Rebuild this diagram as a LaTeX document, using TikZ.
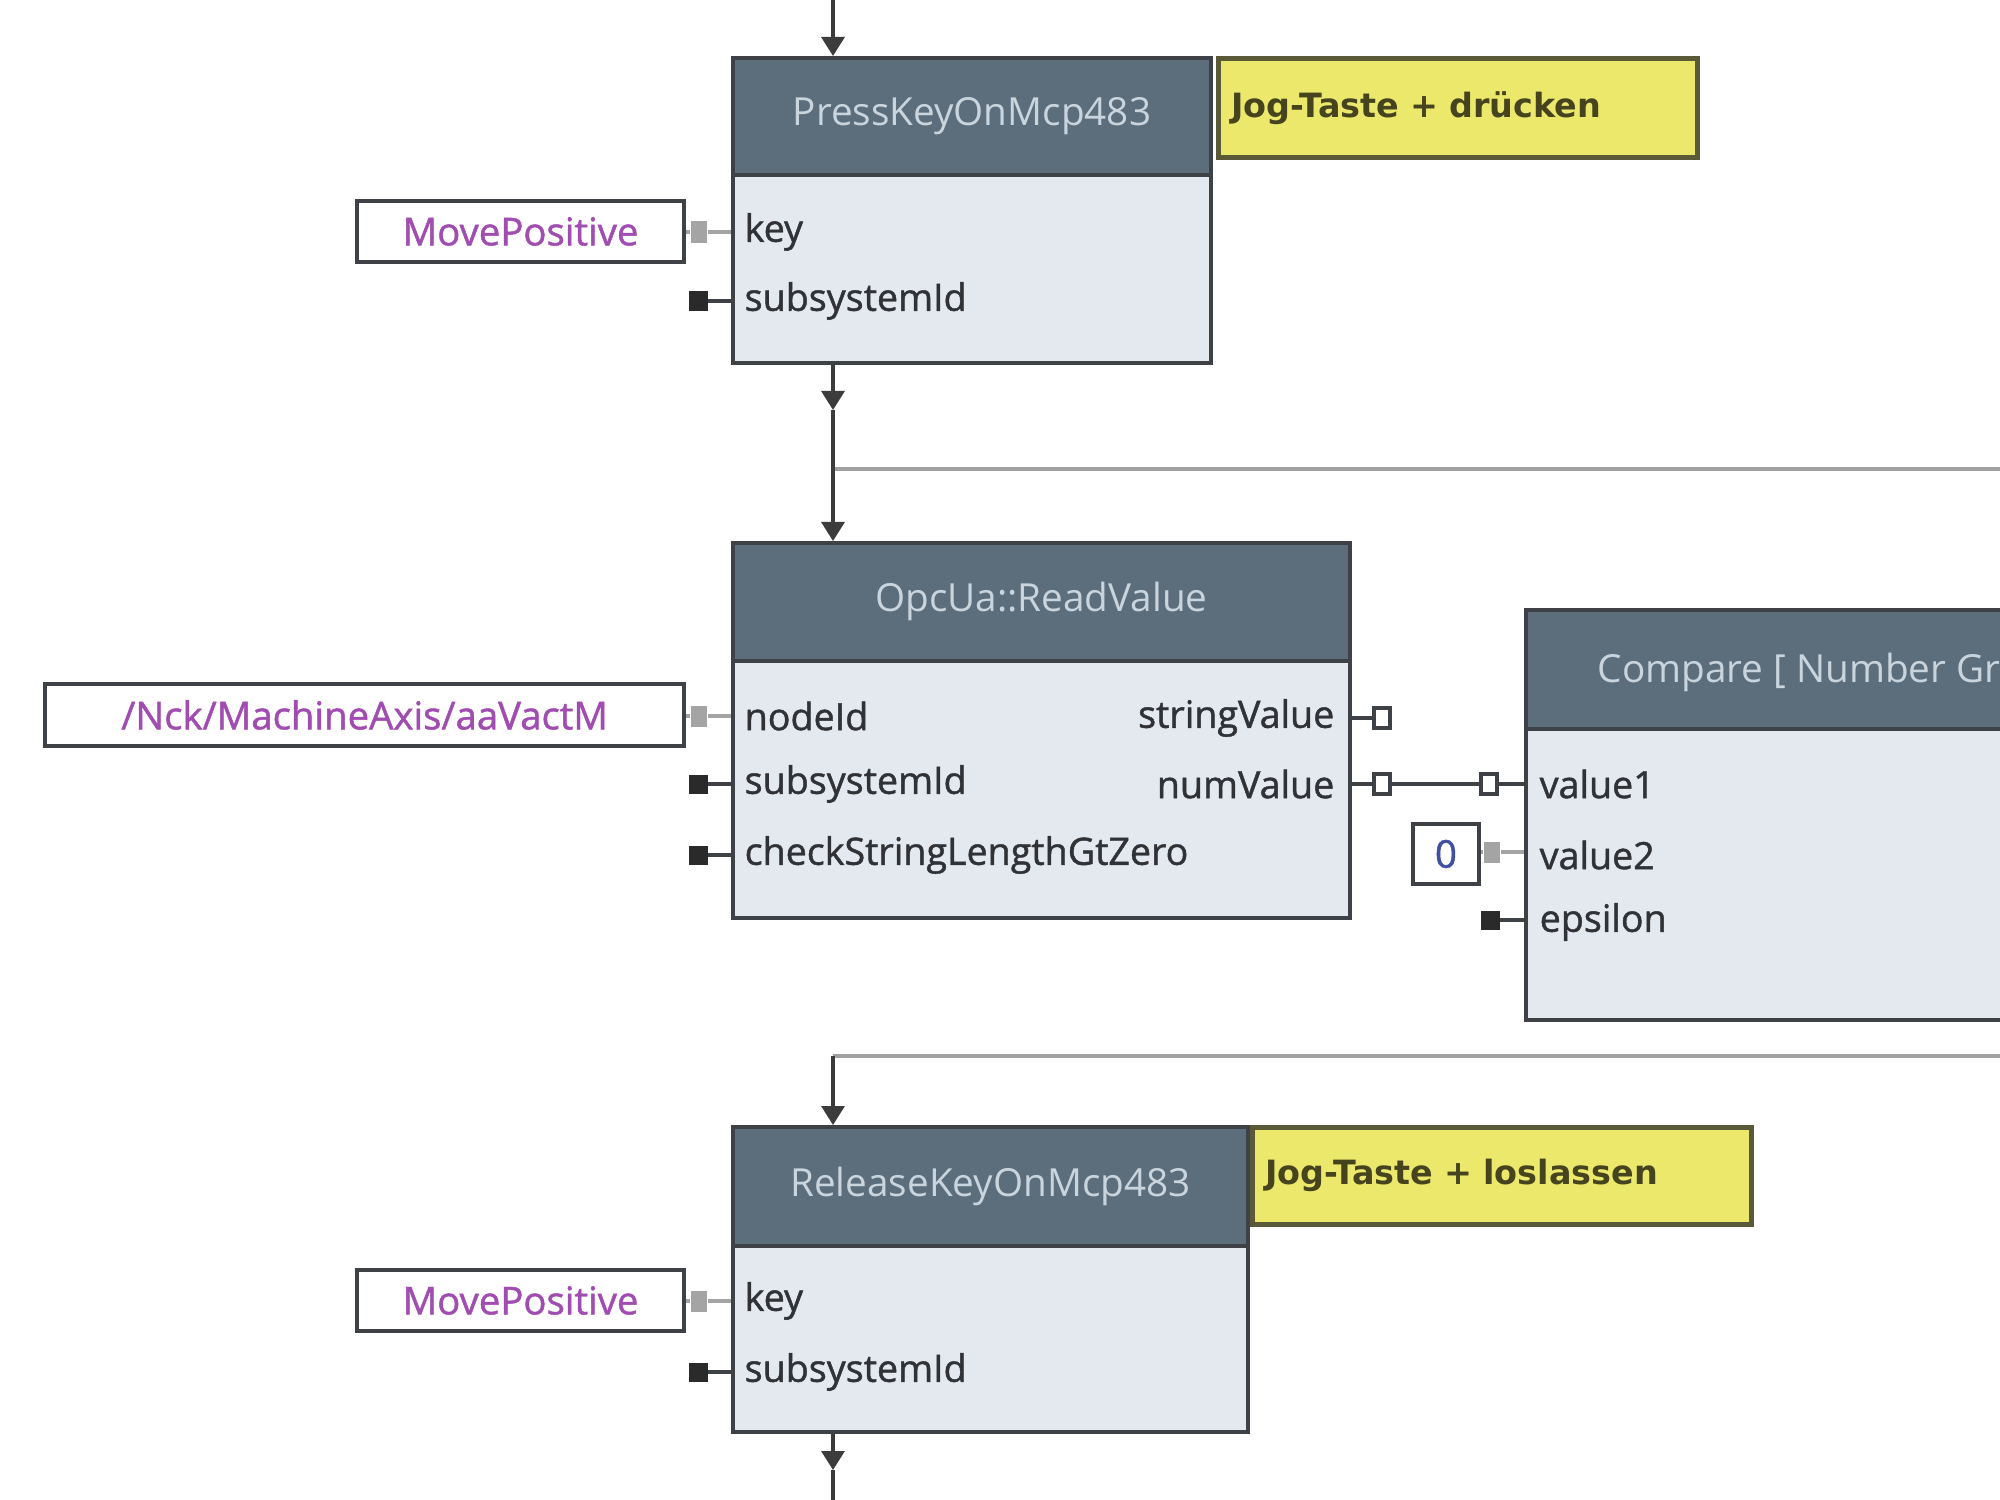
\documentclass[tikz,border=0pt]{standalone}
\usepackage{fontspec}
\setmainfont{Open Sans}
\newfontfamily\notefont{DejaVu Sans}
\newfontfamily\lblfont[FakeBold=1.2]{Open Sans}
\usetikzlibrary{arrows.meta,calc}
\definecolor{hdr}{HTML}{5C6E7C}
\definecolor{hdrtxt}{HTML}{C9D4DD}
\definecolor{bodyc}{HTML}{E4E9EF}
\definecolor{bord}{HTML}{3E4247}
\definecolor{lbltxt}{HTML}{303236}
\definecolor{purp}{HTML}{A04CB0}
\definecolor{zeroblue}{HTML}{4050A0}
\definecolor{pinblack}{HTML}{2A2A2A}
\definecolor{pingray}{HTML}{A4A4A4}
\definecolor{flowc}{HTML}{3C3C3C}
\definecolor{loopc}{HTML}{A0A0A0}
\definecolor{notey}{HTML}{EBE86C}
\definecolor{noteb}{HTML}{5B5A38}
\definecolor{notetxt}{HTML}{45441E}
\begin{document}
\begin{tikzpicture}[x=0.01cm,y=-0.01cm,
  hdrbox/.style={draw=bord, fill=hdr, line width=1pt, anchor=north west, inner sep=0pt, text=hdrtxt, font=\fontsize{11}{13}\selectfont},
  bodybox/.style={draw=bord, fill=bodyc, line width=1pt, anchor=north west, inner sep=0pt},
  lbl/.style={anchor=west, inner sep=0pt, text=lbltxt, font=\lblfont\fontsize{10.7}{12}\selectfont},
  rlbl/.style={lbl, anchor=east},
  constbox/.style={draw=bord, fill=white, line width=1.1pt, anchor=north west, inner sep=0pt, text=purp, font=\lblfont\fontsize{10.9}{12}\selectfont},
  pinb/.style={fill=pinblack, minimum width=0.19cm, minimum height=0.19cm, inner sep=0pt},
  ping/.style={fill=pingray, minimum width=0.16cm, minimum height=0.21cm, inner sep=0pt},
  pout/.style={draw=bord, fill=white, line width=1.1pt, minimum width=0.16cm, minimum height=0.2cm, inner sep=0pt},
  pinline/.style={draw=bord, line width=0.9pt},
  grayline/.style={draw=pingray, line width=1pt},
  flow/.style={draw=flowc, line width=0.9pt, -{Triangle[width=0.23cm,length=0.19cm]}},
  flowline/.style={draw=flowc, line width=0.9pt},
  loopline/.style={draw=loopc, line width=1.2pt},
  notebox/.style={draw=noteb, fill=notey, line width=1.3pt, anchor=north west, inner xsep=0.13cm, inner ysep=0pt, align=left, text=notetxt, font=\notefont\bfseries\fontsize{9.5}{11}\selectfont}
]
\clip (0,0) rectangle (2000,1500);
\fill[white] (0,0) rectangle (2000,1500);

% ---------- PressKeyOnMcp483 ----------
\node[hdrbox, minimum width=4.78cm, minimum height=1.17cm] (pkh) at (731,56) {PressKeyOnMcp483};
\node[bodybox, minimum width=4.78cm, minimum height=1.88cm] (pkb) at (731,173) {};
\node[notebox, text width=4.53cm, minimum height=0.99cm] (n1) at (1216,56) {Jog-Taste + drücken};
\node[constbox, minimum width=3.27cm, minimum height=0.61cm] (c1) at (355,199) {MovePositive};
\node[ping] (pk1) at (699,232) {};
\node[pinb] (pk2) at (698,301) {};
\node[lbl] (pkl1) at (744,232) {key};
\node[lbl] (pkl2) at (744,301) {subsystemId};
\draw[grayline] (c1.east |- pk1) -- (pk1.west);
\draw[grayline] (pk1.east) -- (pk1 -| pkb.west);
\draw[pinline] (pk2.east) -- (pk2 -| pkb.west);

% ---------- OpcUa::ReadValue ----------
\node[hdrbox, minimum width=6.17cm, minimum height=1.18cm] (rvh) at (731,541) {OpcUa::ReadValue};
\node[bodybox, minimum width=6.17cm, minimum height=2.57cm] (rvb) at (731,659) {};
\node[constbox, minimum width=6.39cm, minimum height=0.62cm] (c2) at (43,682) {/Nck/MachineAxis/aaVactM};
\node[ping] (rv1) at (699,716) {};
\node[pinb] (rv2) at (698,784) {};
\node[pinb] (rv3) at (698,855) {};
\node[lbl] (rvl1) at (744,716) {nodeId};
\node[lbl] (rvl2) at (744,784) {subsystemId};
\node[lbl] (rvl3) at (744,855) {checkStringLengthGtZero};
\node[rlbl] (rvo1l) at (1335,718) {stringValue};
\node[rlbl] (rvo2l) at (1335,784) {numValue};
\node[pout] (rvo1) at (1382,718) {};
\node[pout] (rvo2) at (1382,784) {};
\draw[grayline] (c2.east |- rv1) -- (rv1.west);
\draw[grayline] (rv1.east) -- (rv1 -| rvb.west);
\draw[pinline] (rv2.east) -- (rv2 -| rvb.west);
\draw[pinline] (rv3.east) -- (rv3 -| rvb.west);
\draw[pinline] (rvo1 -| rvb.east) -- (rvo1.west);
\draw[pinline] (rvo2 -| rvb.east) -- (rvo2.west);

% ---------- Compare ----------
\node[hdrbox, minimum width=6cm, minimum height=1.19cm] (cph) at (1524,608) {};
\node[anchor=west, inner sep=0pt, text=hdrtxt, font=\fontsize{11}{13}\selectfont] (cpt) at (1597,672) {Compare [ Number Gr};
\node[bodybox, minimum width=6cm, minimum height=2.91cm] (cpb) at (1524,727) {};
\node[pout] (cp1) at (1489,784) {};
\node[ping] (cp2) at (1492,852) {};
\node[pinb] (cp3) at (1490,920) {};
\node[constbox, minimum width=0.66cm, minimum height=0.60cm, text=zeroblue] (c0) at (1411,822) {0};
\node[lbl] (cpl1) at (1539,784) {value1};
\node[lbl] (cpl2) at (1539,855) {value2};
\node[lbl] (cpl3) at (1539,922) {epsilon};
\draw[pinline] (rvo2.east) -- (cp1.west);
\draw[pinline] (cp1.east) -- (cp1 -| cpb.west);
\draw[grayline] (c0.east |- cp2) -- (cp2.west);
\draw[grayline] (cp2.east) -- (cp2 -| cpb.west);
\draw[pinline] (cp3.east) -- (cp3 -| cpb.west);

% ---------- ReleaseKeyOnMcp483 ----------
\node[hdrbox, minimum width=5.15cm, minimum height=1.19cm] (rkh) at (731,1125) {ReleaseKeyOnMcp483};
\node[bodybox, minimum width=5.15cm, minimum height=1.86cm] (rkb) at (731,1244) {};
\node[notebox, text width=4.73cm, minimum height=0.97cm] (n2) at (1250,1125) {Jog-Taste + loslassen};
\node[constbox, minimum width=3.27cm, minimum height=0.61cm] (c3) at (355,1268) {MovePositive};
\node[ping] (rk1) at (699,1301) {};
\node[pinb] (rk2) at (698,1372) {};
\node[lbl] (rkl1) at (744,1301) {key};
\node[lbl] (rkl2) at (744,1372) {subsystemId};
\draw[grayline] (c3.east |- rk1) -- (rk1.west);
\draw[grayline] (rk1.east) -- (rk1 -| rkb.west);
\draw[pinline] (rk2.east) -- (rk2 -| rkb.west);

% ---------- control flow ----------
\coordinate (t0) at (833,0);
\coordinate (m1) at (833,410);
\coordinate (j1) at (833,469);
\coordinate (r1) at (2010,469);
\coordinate (j2) at (833,1056);
\coordinate (r2) at (2010,1056);
\coordinate (m3) at (833,1470);
\coordinate (b0) at (833,1500);
\draw[loopline] (r1) -- (j1);
\draw[loopline] (r2) -- (j2);
\draw[flow] (t0) -- (t0 |- pkh.north);
\draw[flow] (t0 |- pkb.south) -- (m1);
\draw[flow] (m1) -- (m1 |- rvh.north);
\draw[flow] (j2) -- (j2 |- rkh.north);
\draw[flow] (t0 |- rkb.south) -- (m3);
\draw[flowline] (m3) -- (b0);
\end{tikzpicture}
\end{document}
